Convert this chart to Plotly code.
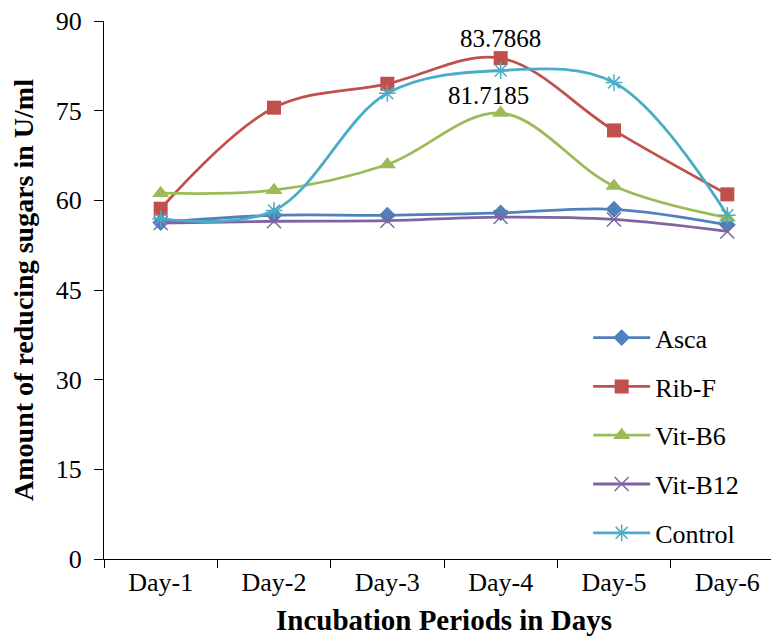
import plotly.graph_objects as go

days = ["Day-1", "Day-2", "Day-3", "Day-4", "Day-5", "Day-6"]
asca = [56.3, 57.5, 57.5, 57.9, 58.5, 55.9]
rib_f = [58.6, 75.5, 79.5, 83.7868, 71.7, 61.0]
vit_b6 = [61.2, 61.7, 66.0, 74.6, 62.4, 57.1]
vit_b12 = [56.2, 56.5, 56.6, 57.2, 56.8, 54.8]
control = [56.9, 58.3, 77.9, 81.7185, 79.7, 57.5]
y_ticks = [0, 15, 30, 45, 60, 75, 90]

FONT = "Liberation Serif"

series = [
    ("Asca", asca, "#4F81BD", dict(symbol="diamond", size=13)),
    ("Rib-F", rib_f, "#C0504D", dict(symbol="square", size=14)),
    ("Vit-B6", vit_b6, "#9BBB59", dict(symbol="triangle-up", size=15)),
    ("Vit-B12", vit_b12, "#8064A2", dict(symbol="x-thin-open", size=14, line=dict(width=1.5, color="#8064A2"))),
    ("Control", control, "#4BACC6", dict(symbol="asterisk-open", size=14, line=dict(width=1.5, color="#4BACC6"))),
]

fig = go.Figure()
for name, vals, color, mk in series:
    fig.add_trace(go.Scatter(
        x=days, y=vals, name=name, mode="lines+markers",
        line=dict(color=color, width=2.8, shape="spline", smoothing=1.0),
        marker=dict(color=color, **mk),
        legendgroup=name,
    ))

fig.add_annotation(x="Day-4", y=rib_f[3], text=f"{rib_f[3]:.4f}", showarrow=False,
                   yshift=20, font=dict(family=FONT, size=25, color="black"))
fig.add_annotation(x="Day-4", y=control[3], text=f"{control[3]:.4f}", showarrow=False,
                   yshift=-25, xshift=-12, font=dict(family=FONT, size=25, color="black"))

fig.update_layout(
    width=779, height=641,
    margin=dict(l=96, r=3, t=13, b=90),
    plot_bgcolor="white", paper_bgcolor="white",
    font=dict(family=FONT, size=25, color="black"),
    showlegend=True,
    legend=dict(x=0.712, y=0.455, xanchor="left", yanchor="top",
                bgcolor="rgba(0,0,0,0)", font=dict(family=FONT, size=26, color="black"),
                tracegroupgap=12, itemwidth=57),
    xaxis=dict(
        type="category", range=[-0.5, 5.5], showline=True, linecolor="black", linewidth=1,
        ticks="outside", tickson="boundaries", ticklen=8, tickcolor="black",
        showgrid=False, zeroline=False, automargin=False,
        tickfont=dict(family=FONT, size=26, color="black"),
        title=dict(text="<b>Incubation Periods in Days</b>", standoff=13,
                   font=dict(family=FONT, size=29, color="black")),
    ),
    yaxis=dict(
        range=[0, 90], tickvals=y_ticks, showline=True, linecolor="black", linewidth=1,
        ticks="outside", ticklen=9, tickcolor="black", showgrid=False, zeroline=False,
        automargin=False, ticklabeloverflow="allow", ticklabelstandoff=7,
        tickfont=dict(family=FONT, size=26, color="black"),
        title=dict(text="<b>Amount of reducing sugars in U/ml</b>", standoff=24,
                   font=dict(family=FONT, size=28, color="black")),
    ),
)

fig.write_html("out.html")
